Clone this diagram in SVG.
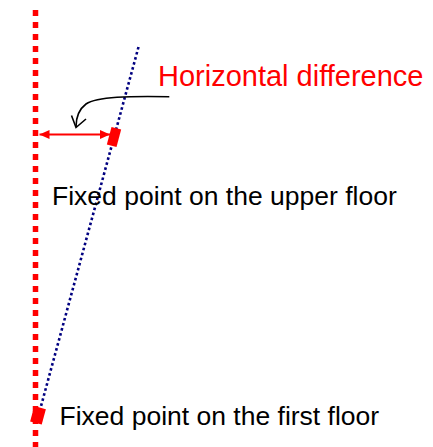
<svg xmlns="http://www.w3.org/2000/svg" width="433" height="447" viewBox="0 0 433 447">
<style>
.lbl{font-family:"Liberation Sans",Arial,sans-serif;}
.red{fill:#ff0000;}
</style>
<defs>
<marker id="ah" viewBox="0 0 10 9" refX="10" refY="4.5" markerWidth="10" markerHeight="9" markerUnits="userSpaceOnUse" orient="auto-start-reverse">
<path d="M0,0 L10,4.5 L0,9 Z" fill="#ff0000"/>
</marker>
</defs>
<rect width="433" height="447" fill="#ffffff"/>
<g id="connectors">
<line id="plumb" x1="35.5" y1="10" x2="35.5" y2="447" stroke="#ff0000" stroke-width="5.5" stroke-dasharray="6 6"/>
<line id="incline" x1="138.5" y1="47" x2="40.5" y2="408" stroke="#000080" stroke-width="2.6" stroke-dasharray="2.6 2.6"/>
<line id="diff" x1="39.5" y1="134.5" x2="110" y2="134.5" stroke="#ff0000" stroke-width="2" marker-start="url(#ah)" marker-end="url(#ah)"/>
<path id="pointer" d="M169.3,96.7 C130,96 97,96.5 86,104 C78,110 76,118 76,127" fill="none" stroke="#000000" stroke-width="1.6"/>
<polyline points="71.5,115.5 76,127.5 86,119" fill="none" stroke="#000000" stroke-width="1.6"/>
</g>
<g id="upper-point">
<rect x="109" y="128" width="10" height="18" transform="rotate(15 114 137)" class="red"/>
<text x="52" y="205" font-size="26.5" class="lbl" fill="#000000">Fixed point on the upper floor</text>
</g>
<g id="first-point">
<rect x="32" y="407.3" width="12" height="16" transform="rotate(15 38 415.3)" class="red"/>
<text x="59.5" y="425" font-size="26.5" class="lbl" fill="#000000">Fixed point on the first floor</text>
</g>
<g id="horizontal-difference">
<text x="158" y="86" font-size="29" class="lbl red">Horizontal difference</text>
</g>
</svg>
